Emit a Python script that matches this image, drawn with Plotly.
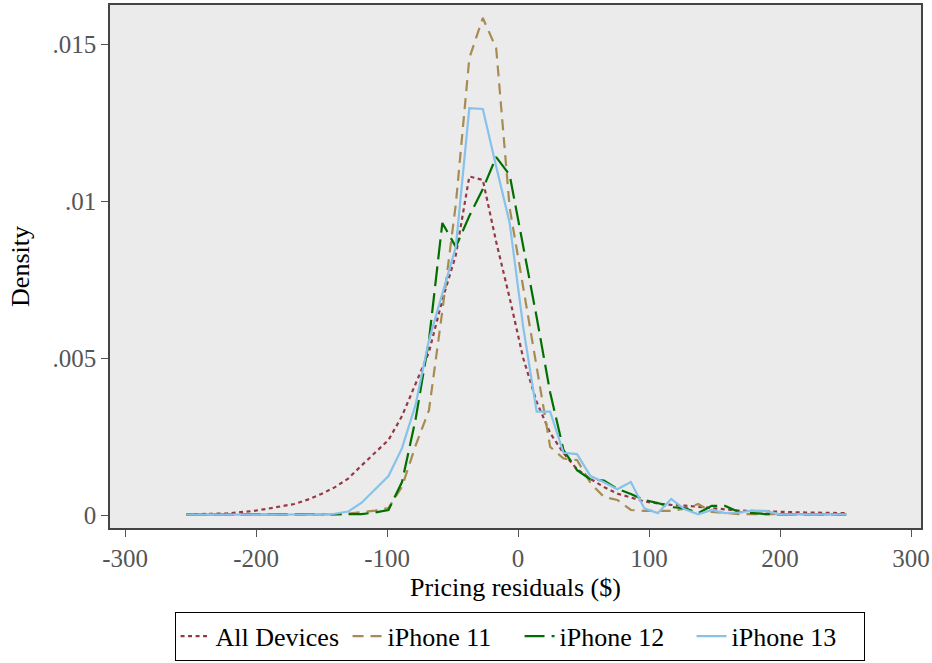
import plotly.graph_objects as go

# Evaluation grid (pricing residuals, $)
residuals = [-253.0, -242.7, -232.4, -222.2, -211.9, -201.6, -191.3, -181.1, -170.8, -160.5,
             -150.2, -140.0, -129.7, -119.4, -109.1, -98.9, -88.6, -78.3, -68.0, -57.8,
             -47.5, -37.2, -26.9, -16.7, -6.4, 3.9, 14.2, 24.5, 34.7, 45.0,
             55.3, 65.6, 75.8, 86.1, 96.4, 106.7, 116.9, 127.2, 137.5, 147.8,
             158.0, 168.3, 178.6, 188.9, 199.1, 209.4, 219.7, 230.0, 240.2, 250.5]

all_devices = [0.00002, 0.00003, 0.00004, 0.00005, 0.00009, 0.00013, 0.00020, 0.00027, 0.00035, 0.00049,
               0.00067, 0.00088, 0.00116, 0.00158, 0.00199, 0.00239, 0.00315, 0.00414, 0.00519, 0.00685,
               0.00828, 0.01078, 0.01067, 0.00870, 0.00691, 0.00500, 0.00360, 0.00261, 0.00197, 0.00146,
               0.00115, 0.00089, 0.00068, 0.00056, 0.00043, 0.00037, 0.00032, 0.00030, 0.00027, 0.00022,
               0.00018, 0.00014, 0.00013, 0.00011, 0.00010, 0.00009, 0.00008, 0.00008, 0.00007, 0.00006]

iphone11 = [0.00001, 0.00001, 0.00001, 0.00001, 0.00001, 0.00001, 0.00001, 0.00001, 0.00001, 0.00001,
            0.00001, 0.00001, 0.00004, 0.00008, 0.00014, 0.00022, 0.00090, 0.00220, 0.00334, 0.00650,
            0.00990, 0.01455, 0.01583, 0.01487, 0.00978, 0.00726, 0.00478, 0.00217, 0.00180, 0.00175,
            0.00102, 0.00057, 0.00048, 0.00016, 0.00013, 0.00013, 0.00013, 0.00020, 0.00035, 0.00010,
            0.00006, 0.00003, 0.00003, 0.00003, 0.00002, 0.00002, 0.00002, 0.00002, 0.00002, 0.00002]

iphone12 = [0.00001, 0.00001, 0.00001, 0.00001, 0.00001, 0.00001, 0.00001, 0.00001, 0.00001, 0.00001,
            0.00001, 0.00001, 0.00002, 0.00003, 0.00008, 0.00016, 0.00105, 0.00303, 0.00557, 0.00930,
            0.00854, 0.00952, 0.01038, 0.01140, 0.01083, 0.00860, 0.00630, 0.00390, 0.00207, 0.00143,
            0.00113, 0.00110, 0.00083, 0.00067, 0.00048, 0.00038, 0.00025, 0.00022, 0.00006, 0.00029,
            0.00029, 0.00010, 0.00006, 0.00003, 0.00002, 0.00002, 0.00002, 0.00002, 0.00002, 0.00002]

iphone13 = [0.00001, 0.00001, 0.00001, 0.00001, 0.00001, 0.00001, 0.00001, 0.00001, 0.00001, 0.00001,
            0.00002, 0.00004, 0.00011, 0.00039, 0.00081, 0.00124, 0.00213, 0.00350, 0.00557, 0.00707,
            0.00854, 0.01296, 0.01293, 0.01110, 0.00930, 0.00600, 0.00329, 0.00329, 0.00198, 0.00194,
            0.00124, 0.00104, 0.00082, 0.00105, 0.00021, 0.00006, 0.00051, 0.00018, 0.00002, 0.00016,
            0.00006, 0.00008, 0.00014, 0.00013, 0.00003, 0.00002, 0.00002, 0.00002, 0.00002, 0.00002]

series_names = ["All Devices", "iPhone 11", "iPhone 12", "iPhone 13"]
x_tick_vals = [-300, -200, -100, 0, 100, 200, 300]
x_tick_text = ["-300", "-200", "-100", "0", "100", "200", "300"]
y_tick_vals = [0, 0.005, 0.01, 0.015]
y_tick_text = ["0", ".005", ".01", ".015"]

FONT = "Liberation Serif, Times New Roman, serif"

styles = [
    dict(color="#953946", dash="4px,3.5px", width=2.2),
    dict(color="#A68C52", dash="11px,7px", width=2.2),
    dict(color="#006F00", dash="20px,7px", width=2.2),
    dict(color="#86C2EA", dash="solid", width=2.2),
]

fig = go.Figure()
for name, ys, st in zip(series_names, [all_devices, iphone11, iphone12, iphone13], styles):
    fig.add_trace(go.Scatter(x=residuals, y=ys, mode="lines", name=name,
                             line=dict(color=st["color"], dash=st["dash"], width=st["width"])))

fig.update_layout(
    width=932, height=663,
    margin=dict(l=110, r=11, t=5, b=135, autoexpand=False),
    paper_bgcolor="white",
    plot_bgcolor="#EBEBEB",
    font=dict(family=FONT, size=26, color="black"),
    showlegend=True,
    legend=dict(orientation="h", x=0.505, xanchor="center", y=-0.16, yanchor="top",
                bordercolor="black", borderwidth=1, bgcolor="white",
                font=dict(family=FONT, size=26, color="black"),
                entrywidth=127, entrywidthmode="pixels",
                tracegroupgap=0, traceorder="normal"),
)
fig.update_xaxes(range=[-311.5, 307.6], tickvals=x_tick_vals, ticktext=x_tick_text,
                 automargin=False,
                 showgrid=False, zeroline=False, showline=True, mirror=True,
                 linecolor="#444", linewidth=1.5, ticks="outside", ticklen=7, tickcolor="#555",
                 tickfont=dict(family=FONT, size=25, color="#555"),
                 title=dict(text="Pricing residuals ($)", standoff=7,
                            font=dict(family=FONT, size=26, color="black")))
fig.update_yaxes(range=[-0.000414, 0.016242], tickvals=y_tick_vals, ticktext=y_tick_text,
                 automargin=False,
                 showgrid=False, zeroline=False, showline=True, mirror=True,
                 linecolor="#444", linewidth=1.5, ticks="outside", ticklen=7, tickcolor="#555",
                 tickfont=dict(family=FONT, size=25, color="#555"),
                 title=dict(text="Density", standoff=15,
                            font=dict(family=FONT, size=26, color="black")))

fig.write_html("out.html")
